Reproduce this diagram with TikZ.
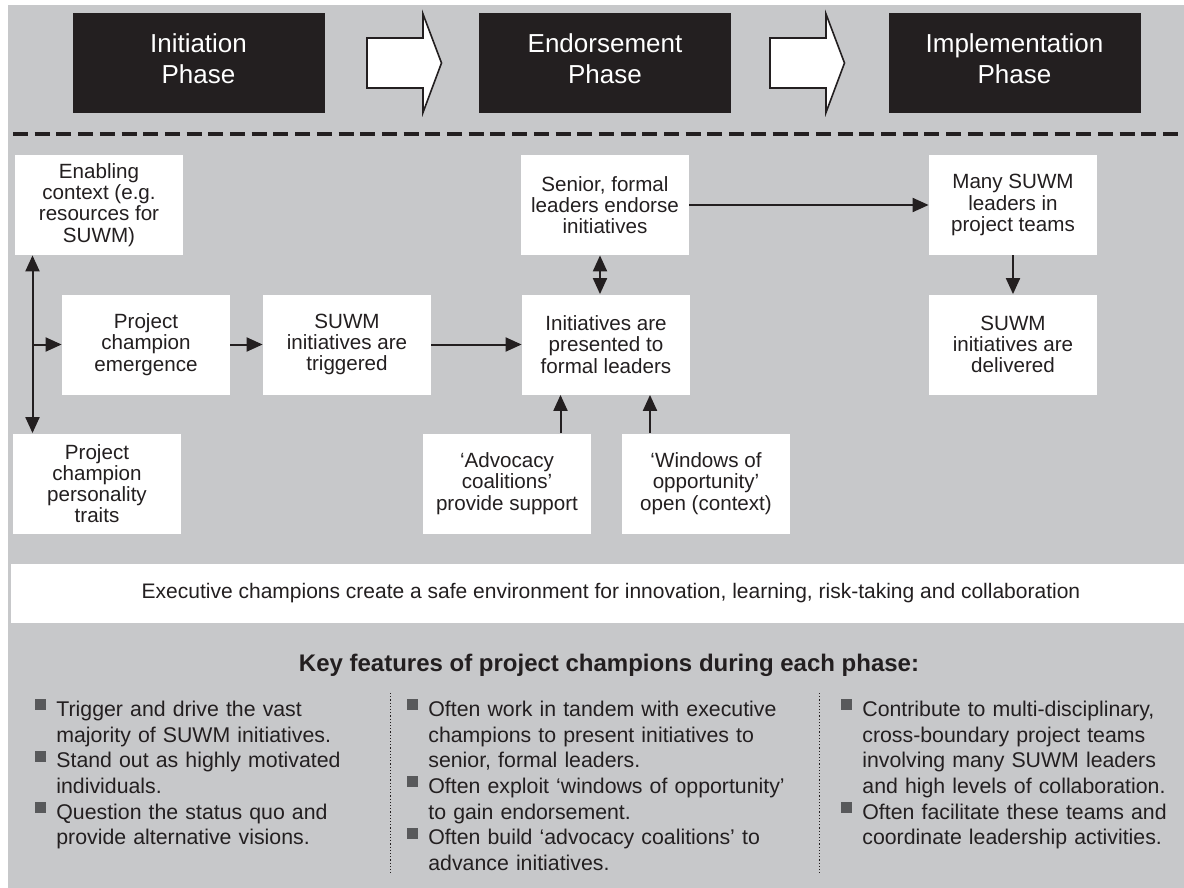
\documentclass[tikz,border=0pt]{standalone}
\usepackage{fontspec}
\setmainfont{Liberation Sans}
\usetikzlibrary{arrows.meta}

\definecolor{bggray}{RGB}{199,200,202}
\definecolor{ink}{RGB}{35,31,32}
\definecolor{bulletgray}{RGB}{88,89,91}

% small square bullet hanging left of a feature line
\newcommand{\sqbullet}{\leavevmode\llap{\textcolor{bulletgray}{\rule[3pt]{5.5pt}{5.5pt}}\hspace{5pt}}}

\tikzset{
  phase/.style={fill=ink, text=white, minimum width=126pt, minimum height=50pt, align=center, font=\fontsize{13}{15.5}\selectfont,
    execute at end node={\rule[-4pt]{0pt}{4pt}}},
  box/.style={fill=white, text=ink, minimum width=84pt, minimum height=50pt, inner sep=0pt, align=center, font=\fontsize{10.3}{10.6}\selectfont},
  features/.style={text=ink, inner sep=0pt, anchor=north west, align=left, font=\fontsize{10.65}{12.85}\selectfont},
  link/.style={draw=ink, line width=1pt, -{Triangle[length=8pt,width=7pt]}},
  twoway/.style={link, {Triangle[length=8pt,width=7pt]}-{Triangle[length=8pt,width=7pt]}},
}

\begin{document}
\begin{tikzpicture}[x=0.5pt, y=-0.5pt]
  \useasboundingbox (0,0) rectangle (1184,888);
  \clip (0,0) rectangle (1184,888);

  % grey backdrop
  \fill[bggray] (8,5) rectangle (1184,888);

  % the three phases, with block arrows between them
  \node[phase] (initiation) at (198.5,63) {Initiation\\Phase};
  \node[phase] (endorsement) at (605,63) {Endorsement\\Phase};
  \node[phase] (implementation) at (1014.5,63) {Implementation\\Phase};
  \foreach \dx in {0,403}
    \draw[ink, fill=white, line width=0.8pt, shift={(\dx,0)}]
      (367,38) -- (423,38) -- (423,14) -- (441.5,63) -- (423,112.5) -- (423,88) -- (367,88) -- cycle;

  % dashed separator
  \draw[ink, line width=2pt, dash pattern=on 7.5pt off 3.35pt] (13,134) -- (1184,134);

  % initiation boxes
  \node[box] (enabling) at (99,205) {Enabling\\context (e.g.\\resources for\\SUWM)};
  \node[box] (emergence) at (146,344.5) {Project\\champion\\emergence};
  \node[box] (traits) at (97,483.5) {Project\\champion\\personality\\traits};
  \node[box] (triggered) at (347,344.5) {SUWM\\initiatives are\\triggered};

  % endorsement boxes
  \node[box] (senior) at (605,205) {Senior, formal\\leaders endorse\\initiatives};
  \node[box] (presented) at (606,344.5) {Initiatives are\\presented to\\formal leaders};
  \node[box] (advocacy) at (507,483.5) {‘Advocacy\\coalitions’\\provide support};
  \node[box] (windows) at (706,483.5) {‘Windows of\\opportunity’\\open (context)};

  % implementation boxes
  \node[box] (many) at (1013,205) {Many SUWM\\leaders in\\project teams};
  \node[box] (delivered) at (1013,344.5) {SUWM\\initiatives are\\delivered};

  % connectors
  \coordinate (spine) at (32.5,344.5);
  \draw[twoway] (spine |- enabling.south) -- (spine |- traits.north);
  \draw[link] (spine) -- (emergence);
  \draw[link] (emergence) -- (triggered);
  \draw[link] (triggered) -- (presented);
  \coordinate (pair) at ([xshift=-2.5pt]senior.south);
  \draw[twoway] (pair) -- (pair |- presented.north);
  \coordinate (advtop) at ([xshift=26.75pt]advocacy.north);
  \coordinate (wintop) at ([xshift=-28pt]windows.north);
  \draw[link] (advtop) -- (advtop |- presented.south);
  \draw[link] (wintop) -- (wintop |- presented.south);
  \draw[link] (senior) -- (many);
  \draw[link] (many) -- (delivered);

  % white band across the figure
  \node[fill=white, text=ink, minimum width=600pt, minimum height=29.5pt, font=\fontsize{10.5}{12.6}\selectfont] (safe) at (611,593.5)
    {Executive champions create a safe environment for innovation, learning, risk-taking and collaboration};

  % key features, one column per phase
  \node[text=ink, anchor=base, font=\bfseries\fontsize{12}{14}\selectfont] (keyfeat) at (609,671)
    {Key features of project champions during each phase:};
  \draw[ink, line width=0.6pt, dash pattern=on 0.6pt off 1pt] (390.5,693) -- (390.5,873) (819.5,693) -- (819.5,873);

  \node[features, text width=160pt] (col1) at (56,698) {%
    \sqbullet\strut Trigger and drive the vast\\
    majority of SUWM initiatives.\\
    \sqbullet Stand out as highly motivated\\
    individuals.\\
    \sqbullet Question the status quo and\\
    provide alternative visions.};
  \node[features, text width=190pt] (col2) at (428,698) {%
    \sqbullet\strut Often work in tandem with executive\\
    champions to present initiatives to\\
    senior, formal leaders.\\
    \sqbullet Often exploit ‘windows of opportunity’\\
    to gain endorsement.\\
    \sqbullet Often build ‘advocacy coalitions’ to\\
    advance initiatives.};
  \node[features, text width=160pt] (col3) at (862,698) {%
    \sqbullet\strut Contribute to multi-disciplinary,\\
    cross-boundary project teams\\
    involving many SUWM leaders\\
    and high levels of collaboration.\\
    \sqbullet Often facilitate these teams and\\
    coordinate leadership activities.};
\end{tikzpicture}
\end{document}
